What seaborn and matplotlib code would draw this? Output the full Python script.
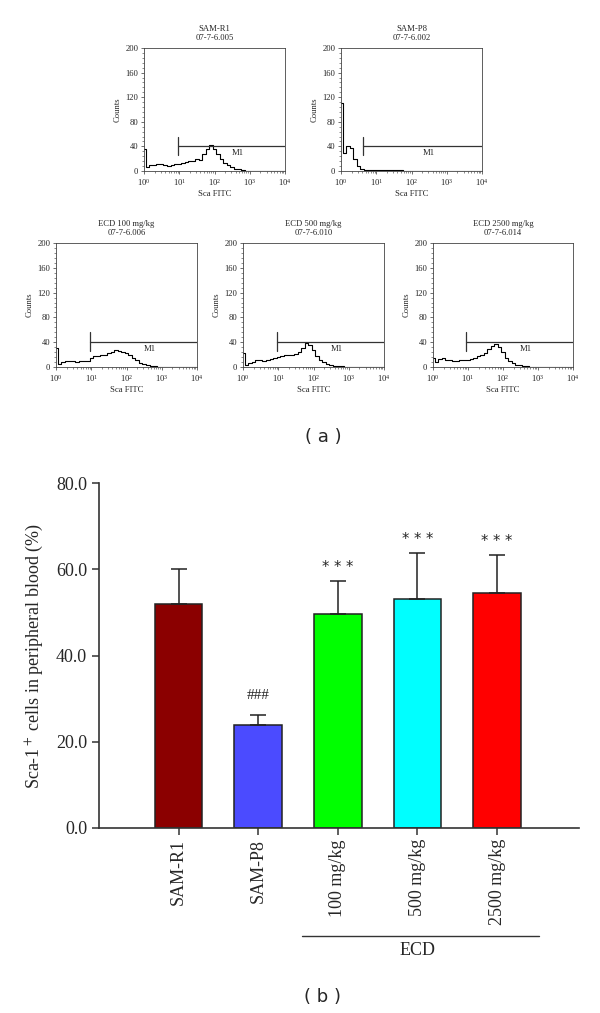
import numpy as np
import pandas as pd
import matplotlib
matplotlib.use("Agg")
import matplotlib.pyplot as plt
import matplotlib.transforms as mtransforms
from matplotlib.ticker import LogLocator, AutoMinorLocator, NullFormatter
import seaborn as sns

# ---------------- data ----------------
LOGX = [0.0, 0.1, 0.2, 0.3, 0.4, 0.5, 0.6, 0.7, 0.8, 0.9,
        1.0, 1.1, 1.2, 1.3, 1.4, 1.5, 1.6, 1.7, 1.8, 1.9,
        2.0, 2.1, 2.2, 2.3, 2.4, 2.5, 2.6, 2.7, 2.8, 2.9,
        3.0, 3.1, 3.2, 3.3, 3.4, 3.5, 3.6, 3.7, 3.8, 3.9, 4.0]

HIST_TITLES = ["SAM-R1", "SAM-P8", "ECD 100 mg/kg", "ECD 500 mg/kg", "ECD 2500 mg/kg"]
HIST_IDS = ["07-7-6.005", "07-7-6.002", "07-7-6.006", "07-7-6.010", "07-7-6.014"]

COUNTS_R1 = [36, 7, 9, 10, 11, 12, 10, 8, 9, 11,
             12, 13, 15, 17, 16, 19, 18, 27, 36, 42,
             36, 28, 20, 13, 9, 6, 4, 3, 1, 0.5,
             0, 0, 0, 0, 0, 0, 0, 0, 0, 0, 0]
COUNTS_P8 = [110, 30, 40, 38, 20, 8, 3, 2, 1, 2,
             1, 2, 1, 2, 1, 2, 1, 1, 0, 0,
             0, 0, 0, 0, 0, 0, 0, 0, 0, 0,
             0, 0, 0, 0, 0, 0, 0, 0, 0, 0, 0]
COUNTS_E100 = [30, 5, 8, 9, 10, 9, 8, 9, 10, 10,
               14, 17, 17, 19, 20, 23, 25, 27, 26, 25,
               22, 19, 15, 11, 7, 5, 3, 2, 1, 0.5,
               0, 0, 0, 0, 0, 0, 0, 0, 0, 0, 0]
COUNTS_E500 = [22, 4, 6, 8, 12, 11, 10, 11, 13, 15,
               16, 17, 19, 20, 19, 21, 24, 30, 38, 36,
               27, 18, 12, 8, 5, 3, 2, 1, 1, 0.5,
               0.5, 0, 0, 0.5, 0, 0.5, 0, 0, 0, 0, 0]
COUNTS_E2500 = [14, 8, 13, 14, 12, 11, 10, 10, 11, 11,
                12, 13, 14, 17, 19, 22, 29, 34, 37, 33,
                24, 14, 9, 6, 4, 3, 2, 1, 0.5, 0,
                0, 0, 0, 0, 0, 0, 0, 0, 0, 0, 0]

GATE_START = [9.5, 4.2, 9.0, 9.3, 8.7]
GATE_END = 1e4
GATE_LEVEL = 40
GATE_LOW, GATE_HIGH = 26, 56
HIST_YTICKS = [0, 40, 80, 120, 160, 200]

BAR_LABELS = ["SAM-R1", "SAM-P8", "100 mg/kg", "500 mg/kg", "2500 mg/kg"]
BAR_MEANS = [51.9, 24.0, 49.7, 53.2, 54.6]
BAR_ERR = [8.1, 2.2, 7.6, 10.6, 8.7]
BAR_MARKS = ["", "###", "* * *", "* * *", "* * *"]
BAR_COLORS = ["#8B0000", "#4B4BFF", "#00FF00", "#00FFFF", "#FF0000"]
BAR_YTICKS = [0, 20, 40, 60, 80]

ALL_COUNTS = [COUNTS_R1, COUNTS_P8, COUNTS_E100, COUNTS_E500, COUNTS_E2500]

# ---------------- style ----------------
sns.set_style("ticks")
plt.rcParams["font.family"] = ["Liberation Serif", "DejaVu Serif"]
plt.rcParams["mathtext.fontset"] = "stix"

W, H = 600, 1013
fig = plt.figure(figsize=(W / 100, H / 100), dpi=100)


def px_axes(x0, y0, x1, y1):
    return fig.add_axes([x0 / W, 1 - y1 / H, (x1 - x0) / W, (y1 - y0) / H])


HIST_BOXES = [(144, 48, 285, 171), (341, 48, 482, 171),
              (56, 243, 197, 367), (243, 243, 384, 367), (433, 243, 573, 367)]

FS_H = 6.2
for i in range(5):
    ax = px_axes(*HIST_BOXES[i])
    ax.set_xscale("log")
    df = pd.DataFrame({"x": 10 ** np.array(LOGX), "y": ALL_COUNTS[i]})
    sns.lineplot(data=df, x="x", y="y", ax=ax, color="black", lw=0.8,
                 drawstyle="steps-mid", estimator=None)
    ax.set_xlim(1, 1e4)
    ax.set_ylim(0, 200)
    g = GATE_START[i]
    ax.plot([g, g], [GATE_LOW, GATE_HIGH], color="#333333", lw=0.9)
    ax.plot([g, GATE_END], [GATE_LEVEL, GATE_LEVEL], color="#333333", lw=0.9)
    ax.text(np.sqrt(g * GATE_END) * 10 ** 0.17, 29, "M1", fontsize=FS_H,
            ha="center", va="center")
    ax.set_yticks(HIST_YTICKS)
    ax.yaxis.set_minor_locator(AutoMinorLocator(5))
    ax.xaxis.set_major_locator(LogLocator(base=10, numticks=10))
    ax.xaxis.set_minor_locator(LogLocator(base=10, subs=np.arange(2, 10), numticks=20))
    ax.xaxis.set_minor_formatter(NullFormatter())
    ax.tick_params(which="major", length=2.5, width=0.5, labelsize=FS_H, pad=1.5,
                   direction="out", color="#333333")
    ax.tick_params(which="minor", length=1.5, width=0.4, direction="out", color="#333333")
    for s in ax.spines.values():
        s.set_linewidth(0.6)
        s.set_color("#444444")
    ax.set_xlabel("Sca FITC", fontsize=FS_H, labelpad=2)
    ax.set_ylabel("Counts", fontsize=FS_H, labelpad=3)
    ax.set_title(f"{HIST_TITLES[i]}\n{HIST_IDS[i]}", fontsize=FS_H, pad=6, linespacing=1.1)

fig.text(323 / W, 1 - 437 / H, "( a )", fontsize=13, family="DejaVu Sans",
         ha="center", va="center")

# ---------------- bar chart ----------------
axb = px_axes(99, 483, 579, 828)
dfb = pd.DataFrame({"group": BAR_LABELS, "value": BAR_MEANS})
sns.barplot(data=dfb, x="group", y="value", hue="group", palette=BAR_COLORS,
            legend=False, width=0.6, edgecolor="#222222", linewidth=1.1,
            saturation=1, errorbar=None, ax=axb)
xpos = np.arange(len(BAR_LABELS))
axb.errorbar(xpos, BAR_MEANS, yerr=[np.zeros(len(BAR_ERR)), BAR_ERR], fmt="none",
             ecolor="#222222", elinewidth=1.1, capsize=5.5, capthick=1.1, zorder=1)
tops = np.array(BAR_MEANS) + np.array(BAR_ERR)
for x, t, m in zip(xpos, tops, BAR_MARKS):
    if m.startswith("#"):
        axb.text(x, t + 4.6, m, ha="center", va="center", fontsize=11)
    elif m:
        axb.text(x, t + 3.2, m, ha="center", va="center", fontsize=10.5,
                 family="DejaVu Sans")

axb.set_xlim(-1.0, 5.03)
axb.set_ylim(0, 80)
axb.set_yticks(BAR_YTICKS)
axb.set_yticklabels([f"{v:.1f}" for v in BAR_YTICKS])
axb.set_xticks(xpos)
axb.set_xticklabels(BAR_LABELS, rotation=90)
axb.tick_params(axis="both", labelsize=13, length=5, width=1.1, direction="out",
                color="#333333")
axb.tick_params(axis="x", pad=3)
axb.set_xlabel("")
axb.set_ylabel("Sca-1$^+$ cells in peripheral blood (%)", fontsize=13)
axb.yaxis.set_label_coords(-0.113, 0.5)
sns.despine(ax=axb)
for s in ("left", "bottom"):
    axb.spines[s].set_linewidth(1.2)
    axb.spines[s].set_color("#333333")

trans = mtransforms.blended_transform_factory(axb.transData, axb.transAxes)
axb.plot([1.55, 4.53], [-0.313, -0.313], transform=trans, clip_on=False,
         color="#333333", lw=1.0)
axb.text(3.0, -0.354, "ECD", transform=trans, ha="center", va="center", fontsize=13)

fig.text(322 / W, 1 - 997 / H, "( b )", fontsize=13, family="DejaVu Sans",
         ha="center", va="center")

fig.savefig("out.png", dpi=100)
